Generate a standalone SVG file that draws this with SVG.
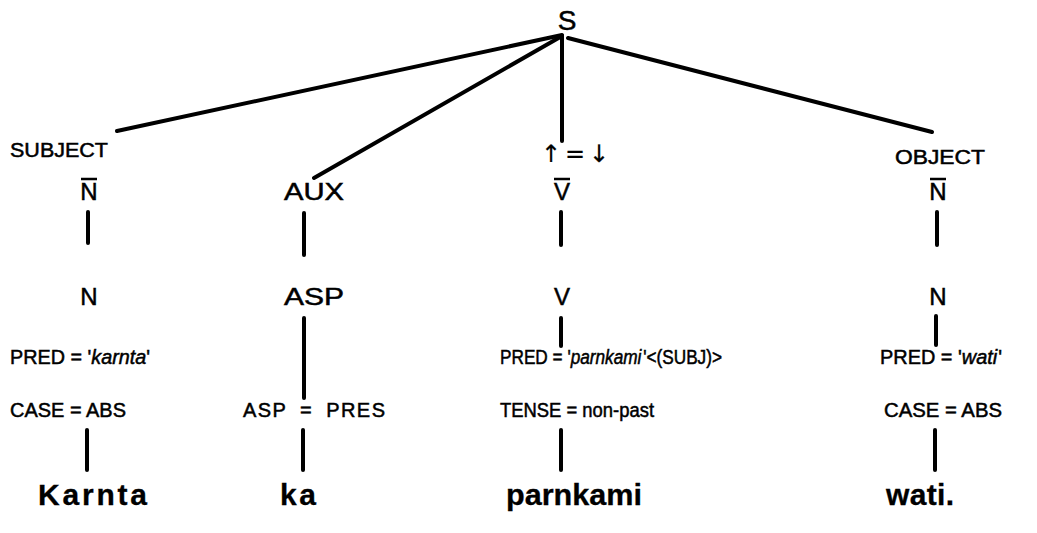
<svg xmlns="http://www.w3.org/2000/svg" width="1037" height="533" viewBox="0 0 1037 533">
<style>
text{font-family:"Liberation Sans",Arial,sans-serif;fill:#000;stroke:#000;stroke-width:0.5}
.cat{font-size:24px;text-anchor:middle}
.lab{font-size:20px}
.feat{font-size:20px}
.it{font-style:italic}
.arr{font-family:"DejaVu Sans","Liberation Sans",sans-serif;font-size:24px;text-anchor:middle;stroke-width:0.2}
.word{font-size:30px;font-weight:bold;stroke-width:0.3}
.root{font-size:28px;text-anchor:middle}
.edge{stroke:#000;stroke-width:4;stroke-linecap:round;fill:none}
.bar{stroke:#000;stroke-width:2.5;fill:none}
</style>
<rect width="1037" height="533" fill="#fff"/>
<g id="connectors">
<line class="edge" x1="562" y1="35" x2="117" y2="131"/>
<line class="edge" x1="562" y1="36" x2="314" y2="178"/>
<line class="edge" x1="562" y1="36" x2="562" y2="141"/>
<line class="edge" x1="568" y1="38" x2="932" y2="132"/>
<line class="edge" x1="88" y1="212" x2="88" y2="243"/>
<line class="edge" x1="87" y1="430" x2="87" y2="470"/>
<line class="edge" x1="304" y1="213" x2="304" y2="255"/>
<line class="edge" x1="304" y1="318" x2="304" y2="398"/>
<line class="edge" x1="303" y1="430" x2="303" y2="470"/>
<line class="edge" x1="561" y1="212" x2="561" y2="245"/>
<line class="edge" x1="561" y1="318" x2="561" y2="346"/>
<line class="edge" x1="561" y1="430" x2="561" y2="470"/>
<line class="edge" x1="937" y1="212" x2="937" y2="245"/>
<line class="edge" x1="936" y1="316" x2="936" y2="345"/>
<line class="edge" x1="935" y1="430" x2="935" y2="470"/>
</g>
<g id="S"><text class="root" x="567" y="30">S</text></g>
<g id="subject">
<text class="lab" x="10" y="157" textLength="98" lengthAdjust="spacingAndGlyphs">SUBJECT</text>
<text class="cat" x="89" y="200">N</text><line class="bar" x1="81" y1="179" x2="97" y2="179"/>
<text class="cat" x="89" y="305">N</text>
<text class="feat" x="10" y="364" textLength="140" lengthAdjust="spacingAndGlyphs">PRED = '<tspan class="it">karnta</tspan>'</text>
<text class="feat" x="10" y="417" textLength="116" lengthAdjust="spacingAndGlyphs">CASE = ABS</text>
<text class="word" x="38" y="505" textLength="109" lengthAdjust="spacing">Karnta</text>
</g>
<g id="aux">
<text class="cat" x="314" y="200" textLength="60" lengthAdjust="spacingAndGlyphs">AUX</text>
<text class="cat" x="314" y="305" textLength="60" lengthAdjust="spacingAndGlyphs">ASP</text>
<text class="feat" x="243" y="417" textLength="142" lengthAdjust="spacing" word-spacing="6">ASP = PRES</text>
<text class="word" x="280" y="505" textLength="36" lengthAdjust="spacing">ka</text>
</g>
<g id="verb">
<text class="arr" x="575" y="162"><tspan x="551">↑</tspan><tspan x="575">=</tspan><tspan x="599">↓</tspan></text>
<text class="cat" x="562" y="200">V</text><line class="bar" x1="554" y1="179" x2="570" y2="179"/>
<text class="cat" x="562" y="305">V</text>
<text class="feat" x="500" y="364" textLength="222" lengthAdjust="spacingAndGlyphs">PRED = '<tspan class="it">parnkami</tspan><tspan dx="2">'&lt;(SUBJ)&gt;</tspan></text>
<text class="feat" x="500" y="417" textLength="154" lengthAdjust="spacingAndGlyphs">TENSE = non-past</text>
<text class="word" x="506" y="505" textLength="136" lengthAdjust="spacingAndGlyphs">parnkami</text>
</g>
<g id="object">
<text class="lab" x="895" y="164" textLength="90" lengthAdjust="spacingAndGlyphs">OBJECT</text>
<text class="cat" x="938" y="200">N</text><line class="bar" x1="930" y1="179" x2="946" y2="179"/>
<text class="cat" x="938" y="305">N</text>
<text class="feat" x="880" y="364" textLength="122" lengthAdjust="spacingAndGlyphs">PRED = '<tspan class="it">wati</tspan><tspan dx="1">'</tspan></text>
<text class="feat" x="884" y="417" textLength="118" lengthAdjust="spacingAndGlyphs">CASE = ABS</text>
<text class="word" x="886" y="505" textLength="68" lengthAdjust="spacing">wati.</text>
</g>
</svg>
